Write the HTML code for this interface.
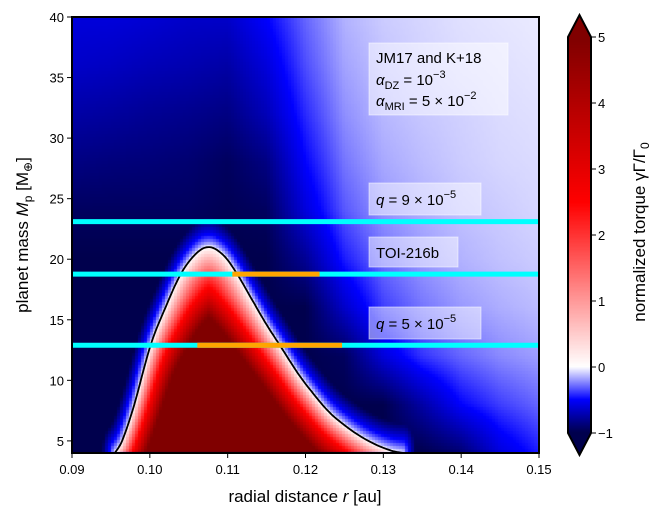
<!DOCTYPE html>
<html><head><meta charset="utf-8">
<style>
html,body{margin:0;padding:0;background:#fff;}
#wrap{position:relative;width:664px;height:518px;overflow:hidden;font-family:"Liberation Sans","DejaVu Sans",sans-serif;}
canvas{position:absolute;}
svg{position:absolute;left:0;top:0;}
</style></head><body>
<div id="wrap">
<canvas id="field" style="left:72px;top:17px" width="467" height="436"></canvas>
<canvas id="cbar" style="left:568px;top:37px" width="23" height="396"></canvas>
<svg id="svg" width="664" height="518"></svg>
</div>
<script>
// ---- data ----
const rCols = [0.09,0.095,0.10,0.105,0.11,0.115,0.12,0.125,0.13,0.135,0.14,0.145,0.15];
const mRows = [40,36,32,28,24,20,16,12,8,4];
const torqueGrid = [
 [-0.6,-0.6,-0.62,-0.65,-0.65,-0.5,-0.3,-0.15,-0.1,-0.08,-0.06,-0.05,-0.04],
 [-0.65,-0.67,-0.7,-0.72,-0.75,-0.6,-0.35,-0.18,-0.12,-0.09,-0.07,-0.06,-0.05],
 [-0.75,-0.77,-0.8,-0.82,-0.85,-0.7,-0.42,-0.22,-0.14,-0.11,-0.09,-0.07,-0.06],
 [-0.85,-0.87,-0.88,-0.9,-0.95,-0.85,-0.5,-0.27,-0.17,-0.13,-0.1,-0.08,-0.07],
 [-0.95,-0.95,-0.95,-0.95,-0.98,-0.95,-0.6,-0.33,-0.21,-0.16,-0.12,-0.1,-0.08],
 [-1,-1,-1,-1,-1,-1,-0.8,-0.45,-0.28,-0.2,-0.15,-0.12,-0.1],
 [-1,-1,-1,-1,-1,-1,-1,-0.65,-0.38,-0.27,-0.2,-0.16,-0.13],
 [-1,-1,-1,-1,-1,-1,-1,-0.95,-0.6,-0.4,-0.3,-0.23,-0.19],
 [-1,-1,-1,-1,-1,-1,-1,-1,-1,-0.75,-0.5,-0.38,-0.3],
 [-1,-1,-1,-1,-1,-1,-1,-1,-1,-1,-0.9,-0.6,-0.45]
];
const contourR = [0.0955,0.0965,0.098,0.1001,0.102,0.104,0.106,0.1077,0.1095,0.1112,0.113,0.115,0.1167,0.119,0.121,0.123,0.125,0.127,0.129,0.131,0.1325];
const contourM = [4,5.1,8,12.9,16,18.8,20.5,21,20.3,18.8,16.8,14.6,12.9,10.6,8.9,7.4,6.3,5.4,4.7,4.2,4.0];
const gainM = [4,10,14,17,21];
const gainV = [0.22,0.19,0.16,0.125,0.12];
const lineM = [23.1,18.77,12.9];
const lineNames = ['q-9e-5-line','toi-216b-line','q-5e-5-line'];
const orangeStart = [null,0.1106,0.1061];
const orangeEnd = [null,0.1218,0.1247];
const xTicks = [0.09,0.10,0.11,0.12,0.13,0.14,0.15];
const xTickLabels = ['0.09','0.10','0.11','0.12','0.13','0.14','0.15'];
const yTicks = [5,10,15,20,25,30,35,40];
const cTicks = [-1,0,1,2,3,4,5];

// ---- scales ----
const X0=72,X1=539,Y0=17,Y1=453;
const xs = r => X0 + (r-0.09)/(0.06)*(X1-X0);
const ys = m => Y1 - (m-4)/36*(Y1-Y0);
const C0=37,C1=433;
const cs = v => C1 - (v+1)/6*(C1-C0);

function seismic(t){
  let n = t<0 ? 0.5*(Math.max(t,-1)+1) : 0.5+0.5*Math.min(t,5)/5;
  const st=[[0,0,0,0.3],[0.25,0,0,1],[0.5,1,1,1],[0.75,1,0,0],[1,0.5,0,0]];
  for(let i=0;i<4;i++){ if(n<=st[i+1][0]){ const f=(n-st[i][0])/(st[i+1][0]-st[i][0]);
    return [0,1,2].map(k=>Math.round(255*(st[i][k+1]+f*(st[i+1][k+1]-st[i][k+1])))); } }
  return [128,0,0];
}
function interp1(xa,ya,x){ if(x<=xa[0])return ya[0]; for(let i=0;i<xa.length-1;i++){ if(x<=xa[i+1]){const f=(x-xa[i])/(xa[i+1]-xa[i]);return ya[i]+f*(ya[i+1]-ya[i]);}} return ya[ya.length-1]; }
function gridVal(r,m){
  let fc=(r-rCols[0])/(rCols[1]-rCols[0]); fc=Math.max(0,Math.min(rCols.length-1.001,fc));
  let fr=(mRows[0]-m)/(mRows[0]-mRows[1]); fr=Math.max(0,Math.min(mRows.length-1.001,fr));
  const c=Math.floor(fc),rr=Math.floor(fr),a=fc-c,b=fr-rr;
  const g=torqueGrid;
  return (1-a)*(1-b)*g[rr][c]+a*(1-b)*g[rr][c+1]+(1-a)*b*g[rr+1][c]+a*b*g[rr+1][c+1];
}
// smooth contour (Catmull-Rom) in pixel space
const rawX = contourR.map(xs), rawY = contourM.map(ys);
const cpx=[], cpy=[];
for(let i=0;i<rawX.length-1;i++){
  const p0=Math.max(0,i-1),p3=Math.min(rawX.length-1,i+2);
  for(let s=0;s<8;s++){ const t=s/8,t2=t*t,t3=t2*t;
    const f=(a,b,c,d)=>0.5*((2*b)+(-a+c)*t+(2*a-5*b+4*c-d)*t2+(-a+3*b-3*c+d)*t3);
    cpx.push(f(rawX[p0],rawX[i],rawX[i+1],rawX[p3])); cpy.push(f(rawY[p0],rawY[i],rawY[i+1],rawY[p3])); }
}
cpx.push(rawX[rawX.length-1]); cpy.push(rawY[rawY.length-1]);
function insideAt(px,py){
  let peak=Math.min(...cpy); if(py<peak) return false;
  let xs2=[]; for(let i=0;i<cpx.length-1;i++){ const ya=cpy[i],yb=cpy[i+1];
    if((py-ya)*(py-yb)<=0 && ya!==yb){ xs2.push(cpx[i]+(py-ya)/(yb-ya)*(cpx[i+1]-cpx[i])); } }
  if(py>cpy[cpy.length-1]) xs2.push(1e9);
  if(xs2.length<2) return false; const lo=Math.min(...xs2),hi=Math.max(...xs2); return px>=lo&&px<=hi;
}
function distC(px,py,vs){ let best=1e9;
  for(let i=0;i<cpx.length-1;i++){ const ax=cpx[i],ay=cpy[i]*vs,bx=cpx[i+1],by=cpy[i+1]*vs,qy=py*vs;
    const dx=bx-ax,dy=by-ay; let t=((px-ax)*dx+(qy-ay)*dy)/(dx*dx+dy*dy||1); t=Math.max(0,Math.min(1,t));
    const ex=ax+t*dx-px,ey=ay+t*dy-qy; const d=Math.sqrt(ex*ex+ey*ey); if(d<best)best=d; }
  return best; }

// ---- heatmap ----
(function(){
  const cv=document.getElementById('field'),ctx=cv.getContext('2d');
  const W=cv.width,H=cv.height,img=ctx.createImageData(W,H);
  const cell=3;
  for(let j=0;j<H;j+=cell){ for(let i=0;i<W;i+=cell){
    const px=X0+i+1.5,py=Y0+j+1.5;
    const r=0.09+(px-X0)/(X1-X0)*0.06, m=4+(Y1-py)/(Y1-Y0)*36;
    let t;
    if(insideAt(px,py)){ const d=distC(px,py,0.5); t=Math.min(5,d*interp1(gainM,gainV,m)); }
    else { const d=distC(px,py,0.45); const g=gridVal(r,m); const h=13; const f=Math.min(1,d/h); t=g*Math.pow(f,0.8); }
    const c=seismic(t);
    for(let dj=0;dj<cell&&j+dj<H;dj++)for(let di=0;di<cell&&i+di<W;di++){
      const k=((j+dj)*W+i+di)*4; img.data[k]=c[0];img.data[k+1]=c[1];img.data[k+2]=c[2];img.data[k+3]=255; }
  }}
  ctx.putImageData(img,0,0);
  const cb=document.getElementById('cbar'),cx=cb.getContext('2d');
  for(let y=0;y<cb.height;y++){ const v=5-(y/(cb.height-1))*6; const c=seismic(v); cx.fillStyle=`rgb(${c[0]},${c[1]},${c[2]})`; cx.fillRect(0,y,cb.width,1); }
})();

// ---- svg overlay ----
const NS='http://www.w3.org/2000/svg', svg=document.getElementById('svg');
function mk(tag,attrs,parent,name,inter){ const e=document.createElementNS(NS,tag); for(const k in attrs)e.setAttribute(k,attrs[k]); (parent||svg).appendChild(e);
  
  
  return e; }
const defs=mk('defs',{},svg,'defs',false);
const cp=mk('clipPath',{id:'pc'},defs,'plot-clip',false); mk('rect',{x:X0,y:Y0,width:X1-X0,height:Y1-Y0},cp,'plot-clip-rect',false);
const plot=mk('g',{'clip-path':'url(#pc)'},svg,'plot-area',false);
let d=''; cpx.forEach((x,i)=>{ d+=(i?'L':'M')+x.toFixed(1)+','+cpy[i].toFixed(1); });
mk('path',{d:d,fill:'none',stroke:'#000','stroke-width':1.8},plot,'zero-torque-contour',false);
lineM.forEach((m,i)=>{
  mk('line',{x1:X0,x2:X1,y1:ys(m),y2:ys(m),stroke:'#00ffff','stroke-width':5},plot,lineNames[i],false);
  if(orangeStart[i]!==null) mk('line',{x1:xs(orangeStart[i]),x2:xs(orangeEnd[i]),y1:ys(m),y2:ys(m),stroke:'#ffa500','stroke-width':5},plot,lineNames[i]+'-orange-segment',false);
});
function box(x,y,w,h,name){ return mk('rect',{x:x,y:y,width:w,height:h,fill:'#fff','fill-opacity':0.5,stroke:'#fff','stroke-opacity':0.5},svg,name,false); }
function txt(x,y,html,opts,name){ const e=mk('text',Object.assign({x:x,y:y,'font-size':15,fill:'#000'},opts||{}),svg,name,false); e.innerHTML=html; return e; }
box(369,43,139,72,'params-box');
txt(376,63,'JM17 and K+18',{}, 'params-title');
txt(376,85,'<tspan font-style="italic">α</tspan><tspan font-size="11" dy="4">DZ</tspan><tspan dy="-4"> = 10</tspan><tspan font-size="11" dy="-7">−3</tspan>',{}, 'alpha-dz-label');
txt(376,106,'<tspan font-style="italic">α</tspan><tspan font-size="11" dy="4">MRI</tspan><tspan dy="-4"> = 5 × 10</tspan><tspan font-size="11" dy="-7">−2</tspan>',{}, 'alpha-mri-label');
box(369,183,112,32,'q9-box');
txt(376,205,'<tspan font-style="italic">q</tspan> = 9 × 10<tspan font-size="11" dy="-7">−5</tspan>',{}, 'q9-label');
box(369,237,89,30,'toi-box');
txt(376,258,'TOI-216b',{}, 'toi-label');
box(369,307,112,32,'q5-box');
txt(376,329,'<tspan font-style="italic">q</tspan> = 5 × 10<tspan font-size="11" dy="-7">−5</tspan>',{}, 'q5-label');
mk('rect',{x:X0,y:Y0,width:X1-X0,height:Y1-Y0,fill:'none',stroke:'#000','stroke-width':2},svg,'plot-frame',false);
xTicks.forEach((v,i)=>{ const x=xs(v); mk('line',{x1:x,x2:x,y1:Y1,y2:Y1+5,stroke:'#000','stroke-width':1},svg,'x-tick',false);
  const t=mk('text',{x:x,y:Y1+21,'font-size':13,'text-anchor':'middle'},svg,'x-tick-label',false); t.textContent=xTickLabels[i]; });
yTicks.forEach(v=>{ const y=ys(v); mk('line',{x1:X0-5,x2:X0,y1:y,y2:y,stroke:'#000','stroke-width':1},svg,'y-tick',false);
  const t=mk('text',{x:X0-8,y:y+5,'font-size':13,'text-anchor':'end'},svg,'y-tick-label',false); t.textContent=String(v); });
const xl=mk('text',{x:305,y:502,'font-size':17,'text-anchor':'middle'},svg,'x-axis-title',false);
xl.innerHTML='radial distance <tspan font-style="italic">r</tspan> [au]';
const yl=mk('text',{x:0,y:0,'font-size':17,'text-anchor':'middle',transform:'translate(28,235) rotate(-90)'},svg,'y-axis-title',false);
yl.innerHTML='planet mass <tspan font-style="italic">M</tspan><tspan font-size="12" dy="4">p</tspan><tspan dy="-4"> [M</tspan><tspan font-size="12" dy="4">⊕</tspan><tspan dy="-4">]</tspan>';
mk('polygon',{points:`568,${C0} 579.5,15 591,${C0}`,fill:'rgb(128,0,0)'},svg,'colorbar-max-extend',false);
mk('polygon',{points:`568,${C1} 579.5,455 591,${C1}`,fill:'rgb(0,0,77)'},svg,'colorbar-min-extend',false);
mk('polygon',{points:`568,${C0} 579.5,15 591,${C0} 591,${C1} 579.5,455 568,${C1}`,fill:'none',stroke:'#000','stroke-width':2},svg,'colorbar-outline',false);
cTicks.forEach(v=>{ const y=cs(v); mk('line',{x1:591,x2:596,y1:y,y2:y,stroke:'#000'},svg,'colorbar-tick',false);
  const t=mk('text',{x:598,y:y+5,'font-size':13},svg,'colorbar-tick-label',false); t.textContent=v<0?'−'+Math.abs(v):String(v); });
const cl=mk('text',{x:0,y:0,'font-size':17,'text-anchor':'middle',transform:'translate(645,232) rotate(-90)'},svg,'colorbar-title',false);
cl.innerHTML='normalized torque γΓ/Γ<tspan font-size="12" dy="4">0</tspan>';
</script>
</body></html>
